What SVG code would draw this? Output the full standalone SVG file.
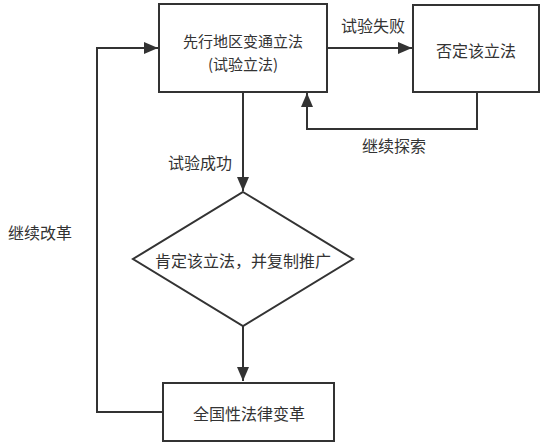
<svg xmlns="http://www.w3.org/2000/svg" width="544" height="445" viewBox="0 0 544 445">
<style>
.n{fill:#fff;stroke:#333;stroke-width:2}
.c{fill:none;stroke:#333;stroke-width:2}
text{font-family:"Noto Sans CJK SC","Noto Sans",sans-serif;font-size:16px;fill:#333;text-anchor:middle;dominant-baseline:central}
.t2{font-size:15px}
</style>
<defs>
<marker id="a" viewBox="0 0 14 12" refX="14" refY="6" markerWidth="14" markerHeight="12" markerUnits="userSpaceOnUse" orient="auto">
<path d="M0,0 L14,6 L0,12 Z" fill="#333"/>
</marker>
</defs>
<rect width="544" height="445" fill="#fff"/>
<g id="connectors">
<path class="c" d="M327,48 H412" marker-end="url(#a)"/>
<path class="c" d="M477,92 V129 H307 V93" marker-end="url(#a)"/>
<path class="c" d="M243,92 V191" marker-end="url(#a)"/>
<path class="c" d="M243,326 V381" marker-end="url(#a)"/>
<path class="c" d="M163,412 H97 V48 H158" marker-end="url(#a)"/>
</g>
<g id="labels">
<text x="373" y="25">试验失败</text>
<text x="394" y="145">继续探索</text>
<text x="200" y="162">试验成功</text>
<text x="40" y="232">继续改革</text>
</g>
<g id="node-trial">
<rect class="n" x="159" y="4" width="168" height="88"/>
<text class="t2" x="243" y="40">先行地区变通立法</text>
<text class="t2" x="243" y="63">(试验立法)</text>
</g>
<g id="node-negate">
<rect class="n" x="413" y="5" width="126" height="87"/>
<text x="476" y="50">否定该立法</text>
</g>
<g id="node-affirm">
<path class="n" d="M243,192 L353,259 L243,326 L133,259 Z"/>
<text x="243" y="260">肯定该立法，并复制推广</text>
</g>
<g id="node-national">
<rect class="n" x="163" y="383" width="171" height="58"/>
<text x="249" y="413">全国性法律变革</text>
</g>
</svg>
